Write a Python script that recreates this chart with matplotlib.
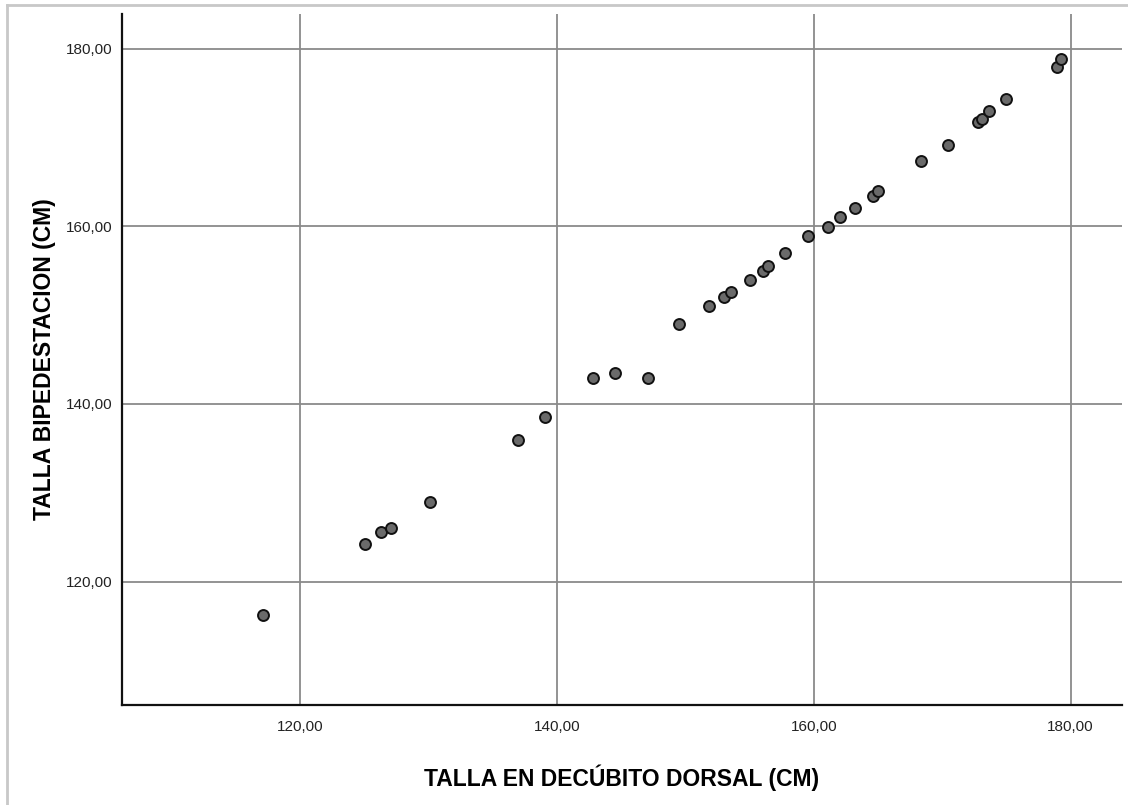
import matplotlib
matplotlib.use("Agg")
import matplotlib.pyplot as plt
from matplotlib.lines import Line2D
from matplotlib.ticker import FuncFormatter

# talla en decubito dorsal vs talla en bipedestacion (cm)
decubito = [117.1, 125.06, 126.3, 127.08, 130.06, 136.94, 139.07, 142.82, 144.54,
            147.08, 149.52, 151.8, 153.0, 153.54, 155.02, 156.0, 156.42, 157.74,
            159.5, 161.11, 162.02, 163.17, 164.57, 164.98, 168.35, 170.48, 172.76,
            173.1, 173.6, 175.0, 178.93, 179.24]
bipedestacion = [116.18, 124.24, 125.6, 126.04, 129.0, 135.95, 138.5, 142.92, 143.49,
                 142.92, 148.95, 150.98, 152.04, 152.55, 153.98, 155.0, 155.48, 157.02,
                 158.93, 159.89, 161.09, 162.06, 163.43, 163.96, 167.33, 169.14, 171.71,
                 172.05, 173.03, 174.35, 177.94, 178.82]
ticks = [120, 140, 160, 180]

plt.rcParams["font.family"] = ["Liberation Sans", "DejaVu Sans"]

fig = plt.figure(figsize=(11.28, 8.05), dpi=100)
ax = fig.add_axes([0.1082, 0.1242, 0.8865, 0.8584])

ax.scatter(decubito, bipedestacion, s=62, c="#6a6a6a", edgecolors="#111111",
           linewidths=1.4, zorder=3)

ax.set_xlim(106.1, 184.0)
ax.set_ylim(106.1, 183.9)
ax.set_xticks(ticks)
ax.set_yticks(ticks)
fmt = FuncFormatter(lambda v, p: ("%.2f" % v).replace(".", ","))
ax.xaxis.set_major_formatter(fmt)
ax.yaxis.set_major_formatter(fmt)
ax.tick_params(length=0, labelsize=11, colors="#222222")
ax.tick_params(axis="x", pad=11)
ax.tick_params(axis="y", pad=7)

ax.grid(True, color="#8a8a8a", linewidth=1.3, zorder=0)
ax.set_axisbelow(True)
for side in ["top", "right"]:
    ax.spines[side].set_visible(False)
for side in ["left", "bottom"]:
    ax.spines[side].set_linewidth(1.6)
    ax.spines[side].set_color("#111111")

ax.set_xlabel("TALLA EN DECÚBITO DORSAL (CM)", fontsize=16.5, fontweight="bold", labelpad=22)
ax.set_ylabel("TALLA BIPEDESTACION (CM)", fontsize=16.5, fontweight="bold", labelpad=7)

# thin outer frame on the top and left
fig.add_artist(Line2D([7 / 1128, 1], [1 - 5 / 805, 1 - 5 / 805], color="#c8c8c8", lw=2))
fig.add_artist(Line2D([7 / 1128, 7 / 1128], [0, 1 - 5 / 805], color="#c8c8c8", lw=2))

fig.savefig("out.png", dpi=100)
